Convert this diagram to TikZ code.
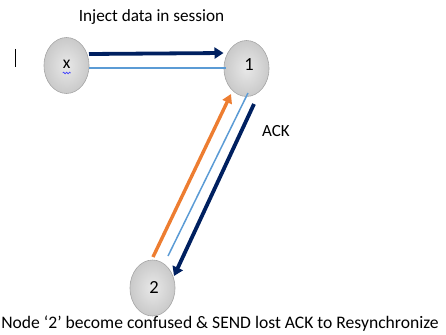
\documentclass[tikz,border=0pt]{standalone}
\usepackage{fontspec}
\setmainfont{Carlito}
\usetikzlibrary{arrows.meta,decorations.pathmorphing,shapes.geometric}
\definecolor{navy}{HTML}{002060}
\definecolor{orng}{HTML}{ED7D31}
\definecolor{lblue}{HTML}{5B9BD5}
\definecolor{nodeedge}{HTML}{A6A6A6}
\begin{document}
\begin{tikzpicture}[x=1pt,y=-1pt,
  peer/.style={ellipse, minimum width=45pt, minimum height=56pt, inner sep=0pt,
    draw=nodeedge, line width=0.6pt, inner color=gray!18, outer color=gray!42},
  numlbl/.style={inner sep=0pt, font=\fontsize{18.5}{20}\selectfont},
  navyarrow/.style={draw=navy, line width=3.8pt, -{Triangle[length=9pt,width=11pt]}},
  orngarrow/.style={draw=orng, line width=3.4pt, -{Triangle[length=9pt,width=10pt]}},
  thinline/.style={draw=lblue, line width=1.5pt},
  lbl/.style={inner sep=0pt}]
\useasboundingbox (0,0) rectangle (446,334);
\node[peer] (x) at (66.5,65.5) {};
\node[peer] (n1) at (246.5,68.5) {};
\node[peer] (n2) at (152.5,288) {};
\node[numlbl, font=\fontsize{17.5}{19}\selectfont] (xl) at (66.7,64.5) {x};
\node[numlbl] (l1) at (249,65) {1};
\node[numlbl] (l2) at (154,287) {2};
% top connectors
\draw[navyarrow] ([shift={(22.5,-11.5)}]x.center) -- ([shift={(-23,-15.5)}]n1.center);
\draw[thinline] ([shift={(22.5,2.5)}]x.center) -- ([shift={(-21,-0.5)}]n1.center);
% diagonal connectors
\draw[orngarrow] ([shift={(0.5,-31)}]n2.center) -- ([shift={(-15.5,25.5)}]n1.center);
\draw[thinline] ([shift={(15.5,-32)}]n2.center) -- ([shift={(1.5,24.5)}]n1.center);
\draw[navyarrow] ([shift={(7.5,35.5)}]n1.center) -- ([shift={(21.5,-12)}]n2.center);
% spell-check squiggle under x
\draw[blue!80, line width=0.6pt, decorate, decoration={snake, amplitude=0.9pt, segment length=3pt}]
  ([shift={(-4,8.5)}]xl.center) -- ([shift={(4,8.5)}]xl.center);
% text cursor
\draw[black, line width=0.8pt] (15,49) -- (15,67);
% labels
\node[lbl, font=\fontsize{17.2}{19}\selectfont] (t1) at (151.5,17.5) {Inject data in session};
\node[lbl, font=\fontsize{17}{19}\selectfont] (ack) at (276,131.5) {ACK};
\node[lbl, font=\fontsize{17.6}{19}\selectfont] (t2) at (220,323.5) {Node ‘2’ become confused \& SEND lost ACK to Resynchronize};
\end{tikzpicture}
\end{document}
